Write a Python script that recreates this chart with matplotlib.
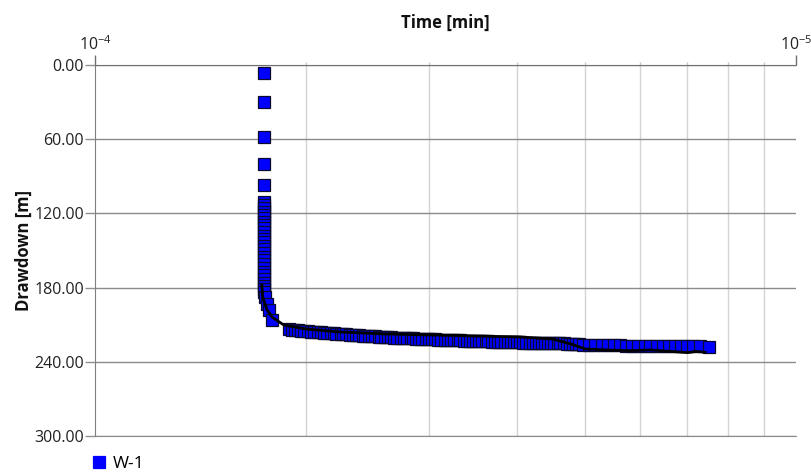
import matplotlib
matplotlib.use("Agg")
from matplotlib import pyplot as plt
from matplotlib.ticker import FixedLocator, NullFormatter, FixedFormatter

plt.rcParams['font.family'] = ['Open Sans', 'DejaVu Sans']
plt.rcParams['mathtext.fontset'] = 'custom'
plt.rcParams['mathtext.rm'] = 'Open Sans'
plt.rcParams['mathtext.it'] = 'Open Sans:italic'

TSCALE = 1e-4  # time values below are in units of 1e-4 min

# W-1 observations (time, drawdown)
w1_time = [
    1.74, 1.74, 1.74, 1.74, 1.74, 1.74, 1.74, 1.74, 1.74, 1.74,
    1.74, 1.74, 1.74, 1.74, 1.74, 1.74, 1.74, 1.74, 1.74, 1.74,
    1.74, 1.74, 1.74, 1.74, 1.74, 1.74, 1.74, 1.74, 1.74, 1.74,
    1.74, 1.74, 1.75, 1.76, 1.77, 1.79,
    1.89, 1.91, 1.93, 1.95, 1.97, 1.99, 2.01, 2.03, 2.05, 2.08,
    2.10, 2.12, 2.14, 2.17, 2.19, 2.21, 2.24, 2.26, 2.28, 2.31,
    2.33, 2.36, 2.38, 2.41, 2.43, 2.46, 2.48, 2.51, 2.54, 2.56,
    2.59, 2.62, 2.64, 2.67, 2.70, 2.73, 2.76, 2.79, 2.82, 2.84,
    2.87, 2.90, 2.93, 2.97, 3.00, 3.03, 3.06, 3.09, 3.12, 3.16,
    3.19, 3.22, 3.25, 3.29, 3.32, 3.36, 3.39, 3.43, 3.46, 3.50,
    3.53, 3.57, 3.61, 3.64, 3.68, 3.72, 3.76, 3.80, 3.84, 3.88,
    3.92, 3.96, 4.00, 4.04, 4.08, 4.12, 4.17, 4.21, 4.25, 4.30,
    4.34, 4.38, 4.43, 4.47, 4.52, 4.57, 4.61, 4.66, 4.71, 4.76,
    4.81, 4.86, 4.91,
    4.97, 5.07, 5.17, 5.28, 5.39, 5.50, 5.61, 5.72, 5.84, 5.96,
    6.08, 6.20, 6.33, 6.46, 6.59, 6.72, 6.86, 7.00, 7.14, 7.29, 7.51,
]
w1_drawdown = [
    6.2, 29.7, 58.0, 80.0, 97.0, 110.8, 113.0, 116.0, 118.5, 121.0,
    124.0, 127.0, 129.5, 132.0, 135.0, 138.0, 141.0, 143.5, 146.0, 149.0,
    152.0, 155.0, 158.0, 161.0, 164.0, 167.0, 170.0, 173.0, 176.0, 178.5,
    181.0, 183.5, 188.0, 193.0, 198.0, 206.0,
    213.8, 214.0, 214.2, 214.4, 214.7, 215.0, 215.3, 215.5, 215.7, 216.0,
    216.2, 216.4, 216.6, 216.8, 217.0, 217.2, 217.5, 217.6, 217.8, 218.0,
    218.2, 218.4, 218.6, 218.8, 219.0, 219.1, 219.3, 219.5, 219.7, 219.8,
    220.0, 220.1, 220.2, 220.4, 220.5, 220.6, 220.8, 220.9, 221.0, 221.1,
    221.2, 221.3, 221.4, 221.6, 221.7, 221.8, 221.9, 222.0, 222.1, 222.2,
    222.3, 222.4, 222.5, 222.6, 222.7, 222.8, 222.9, 223.0, 223.1, 223.2,
    223.3, 223.4, 223.5, 223.5, 223.6, 223.7, 223.8, 223.9, 224.0, 224.0,
    224.1, 224.2, 224.3, 224.3, 224.4, 224.5, 224.5, 224.6, 224.7, 224.7,
    224.8, 224.9, 224.9, 225.0, 225.0, 225.1, 225.2, 225.2, 225.3, 225.3,
    225.4, 225.5, 225.5,
    226.4, 226.5, 226.6, 226.6, 226.7, 226.8, 226.8, 226.9, 227.0, 227.0,
    227.1, 227.1, 227.2, 227.2, 227.3, 227.3, 227.4, 227.4, 227.5, 227.5, 227.9,
]

# black curve drawn through the data
curve_time = [1.73, 1.735, 1.76, 1.79, 1.86, 2.00, 2.24, 2.60, 3.00, 3.50,
              4.04, 4.50, 4.80, 5.00, 5.40, 5.80, 6.20, 6.60, 7.00, 7.20, 7.42]
curve_drawdown = [178.0, 188.0, 198.0, 204.0, 210.3, 213.5, 215.9, 217.5, 218.3, 219.2,
                  219.9, 221.6, 226.0, 229.6, 230.5, 231.0, 230.4, 231.5, 232.6, 231.6, 232.3]

y_ticks = [0, 60, 120, 180, 240, 300]
x_major = [1e-4, 1e-3]
x_major_labels = [r'$10^{-4}$', r'$10^{-5}$']
x_minor = [k * 1e-4 for k in range(2, 10)]

fig = plt.figure(figsize=(8.11, 4.72), dpi=100)
ax = fig.add_axes([95 / 811, 1 - 436 / 472, 701 / 811, 371 / 472])

t1 = [t * TSCALE for t in w1_time]
tc = [t * TSCALE for t in curve_time]

ax.plot(t1, w1_drawdown, linestyle='none', marker='s', markersize=8.3,
        markerfacecolor='#0000ff', markeredgecolor='#0a0a30', markeredgewidth=0.9,
        label='W-1', zorder=3)
ax.plot(tc, curve_drawdown, color='black', linewidth=2.0, label='_nolegend_', zorder=4)

ax.set_xscale('log')
ax.set_xlim(1e-4, 1e-3)
ax.set_ylim(300, 0)

ax.xaxis.tick_top()
ax.xaxis.set_label_position('top')
ax.xaxis.set_major_locator(FixedLocator(x_major))
ax.xaxis.set_major_formatter(FixedFormatter(x_major_labels))
ax.xaxis.set_minor_locator(FixedLocator(x_minor))
ax.xaxis.set_minor_formatter(NullFormatter())
ax.set_yticks(y_ticks)
ax.set_yticklabels(['%.2f' % v for v in y_ticks])

ax.tick_params(axis='x', which='major', length=7, width=1, color='#707070',
               labelsize=11.5, labelcolor='#222222', pad=1)
ax.tick_params(axis='x', which='minor', length=2.5, width=1, color='#c8c8c8')
ax.tick_params(axis='y', which='major', length=7, width=1, color='#909090',
               labelsize=11.5, labelcolor='#222222', pad=1)

ax.grid(True, axis='y', color='#8a8a8a', linewidth=1)
ax.grid(True, axis='x', which='minor', color='#d4d4d4', linewidth=1)
ax.set_axisbelow(True)

ax.spines['right'].set_visible(False)
ax.spines['left'].set_color('#808080')
ax.spines['top'].set_color('#707070')
ax.spines['bottom'].set_color('#8a8a8a')

ax.set_xlabel('Time [min]', fontsize=12, fontweight='bold', color='#111111', labelpad=5)
ax.set_ylabel('Drawdown [m]', fontsize=12, fontweight='bold', color='#111111', labelpad=1)

leg = fig.legend(loc='center left', bbox_to_anchor=(83 / 811, 1 - 464 / 472), frameon=False,
                 fontsize=12.5, handletextpad=0.3, borderaxespad=0, handlelength=1.0)
for h in leg.legend_handles:
    h.set_markeredgecolor('#0000ff')

fig.savefig('out.png', dpi=100)
